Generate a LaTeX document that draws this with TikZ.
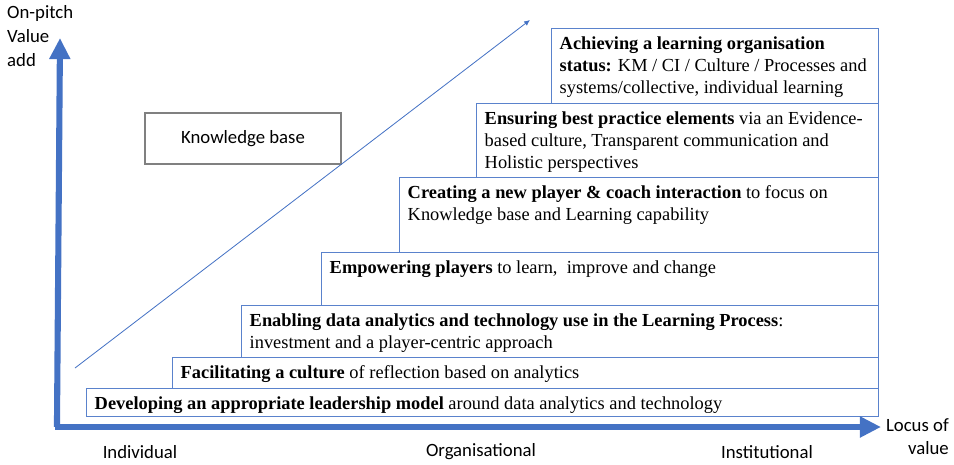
\documentclass[tikz,border=0pt]{standalone}
\usepackage{fontspec}
\setmainfont{Liberation Serif}
\newfontfamily\labelfont{Carlito}
\usetikzlibrary{arrows.meta}
\usetikzlibrary{fit}

\definecolor{axisblue}{HTML}{4472C4}
\definecolor{boxblue}{HTML}{5A82CC}
\definecolor{kbgrey}{HTML}{808080}

\tikzset{
  stepbox/.style={draw=boxblue, line width=0.7pt, inner sep=0pt},
  steptext/.style={anchor=north west, align=left, inner sep=0pt, xshift=7.6pt, yshift=-7.2pt,
    font=\rmfamily\fontsize{15.7}{19.1}\selectfont},
  axislabel/.style={font=\labelfont\fontsize{16}{20.4}\selectfont, inner sep=0pt},
  axisline/.style={draw=axisblue, line width=5.2pt, -{Triangle[length=18pt,width=17pt]}}
}

\begin{document}
\begin{tikzpicture}[x=0.03cm, y=-0.03cm]
\useasboundingbox (0,0) rectangle (954,464);
\coordinate (o) at (60,427);
\coordinate (ytop) at (60,38);
\coordinate (xend) at (881,427);
\coordinate (d1) at (75,368);
\coordinate (d2) at (530,20);
% draws steps
\node[stepbox, fit={(86,388) (878,416)}] (s1) {};
\node[stepbox, fit={(172,357) (878,388)}] (s2) {};
\node[stepbox, fit={(241,305) (878,357)}] (s3) {};
\node[stepbox, fit={(321,252) (878,305)}] (s4) {};
\node[stepbox, fit={(399,177) (878,252)}] (s5) {};
\node[stepbox, fit={(476,103) (878,177)}] (s6) {};
\node[stepbox, fit={(551,28) (878,103)}] (s7) {};
% labels steps
\node[steptext] at (s1.north west) {\textbf{Developing an appropriate leadership model} around data analytics and technology};
\node[steptext] at (s2.north west) {\textbf{Facilitating a culture} of reflection based on analytics};
\node[steptext] at (s3.north west) {\textbf{Enabling data analytics and technology use in the Learning Process}:\\investment and a player-centric approach};
\node[steptext] at (s4.north west) {\textbf{Empowering players} to learn,\ \ improve and change};
\node[steptext] at (s5.north west) {\textbf{Creating a new player \& coach interaction} to focus on\\Knowledge base and Learning capability};
\node[steptext] at (s6.north west) {\textbf{Ensuring best practice elements} via an Evidence-\\based culture, Transparent communication and\\Holistic perspectives};
\node[steptext] at (s7.north west) {\textbf{Achieving a learning organisation}\\\textbf{status:} KM / CI / Culture / Processes and\\systems/collective, individual learning};
% knowledge base
\node[draw=kbgrey, line width=1.1pt, minimum width=196*0.03cm, minimum height=51*0.03cm,
  font=\labelfont\fontsize{16}{19}\selectfont] (kb) at (243,138.5) {Knowledge base};
% draws axes
\draw[axisline] ([xshift=-2.6pt]o) -- (ytop);
\draw[axisline] ([xshift=-4.4pt]o) -- (xend);
\draw[axisblue, line width=0.7pt, -{Latex[length=5pt,width=4.5pt]}] (d1) -- (d2);
% labels axes
\node[axislabel, anchor=north west, align=left] (ylab) at (7,5) {On-pitch\\Value\\add};
\node[axislabel, anchor=north east, align=right] (xlab) at (949,418) {Locus of\\value};
\node[axislabel] (ind) at (140,452) {Individual};
\node[axislabel] (org) at (481,452) {Organisational};
\node[axislabel] (ins) at (767,452) {Institutional};
\end{tikzpicture}
\end{document}
